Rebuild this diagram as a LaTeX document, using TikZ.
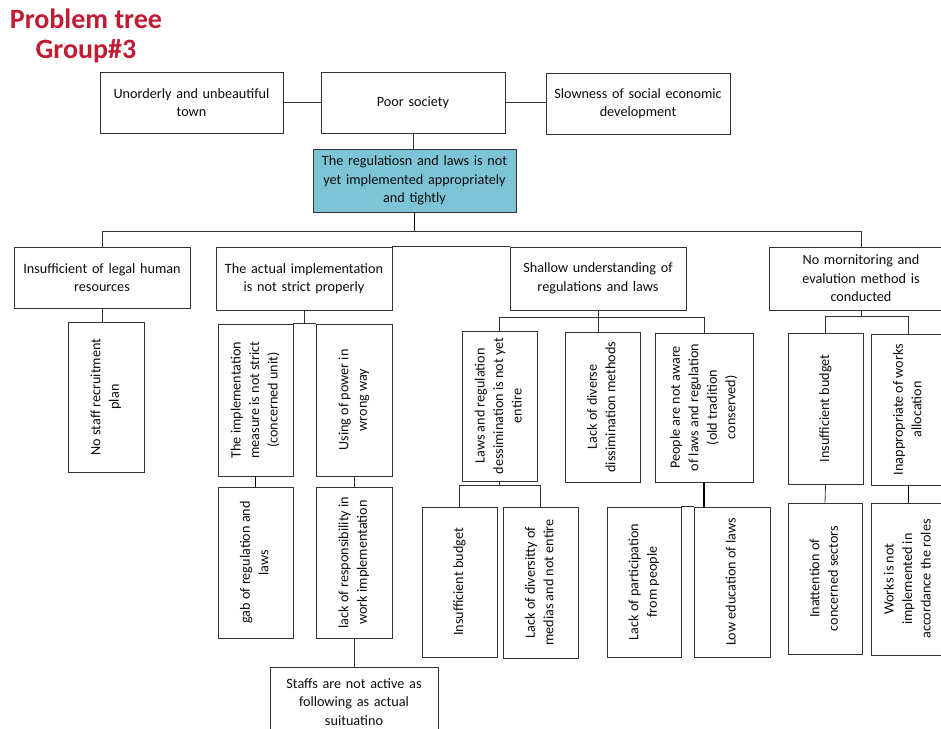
\documentclass[tikz,border=0pt]{standalone}
\usepackage{fontspec}
\setmainfont{Carlito}
\usepackage{graphicx}
\usepackage{xcolor}
\definecolor{rootblue}{RGB}{125,196,214}
\definecolor{titlered}{RGB}{192,28,52}
\newcommand{\vtext}[1]{\rotatebox{90}{\begin{tabular}{@{}c@{}}#1\end{tabular}}}

\begin{document}
\begin{tikzpicture}[x=1pt,y=-1pt,
  every node/.style={font=\fontsize{14.2}{18.5}\selectfont,text=black!95},
  hbox/.style 2 args={draw=black!80,line width=0.9pt,fill=white,text width=#1,minimum height=#2,inner xsep=0pt,align=center},
  vbox/.style 2 args={draw=black!80,line width=0.9pt,fill=white,minimum width=#1,minimum height=#2,inner sep=0pt},
  link/.style={draw=black!80,line width=0.8pt},
  heavy/.style={draw=black,line width=1.8pt}]
\useasboundingbox[fill=white] (0,0) rectangle (941,728);
\node[font=\fontsize{28}{29.5}\selectfont\bfseries,text=titlered,align=center] (title) at (86,36) {Problem tree\\Group\#3};

% effects
\node[hbox={183pt}{61pt}] (town) at (191.5,102.5) {Unorderly and unbeautiful\\town};
\node[hbox={184pt}{61pt}] (poor) at (413,102.5) {Poor society};
\node[hbox={184pt}{61pt}] (slow) at (638,103.5) {Slowness of social economic\\development};
\node[hbox={203pt}{63pt},fill=rootblue] (root) at (414.5,180.5) {The regulatiosn and laws is not\\yet implemented appropriately\\and tightly};

% causes
\node[hbox={176pt}{61pt}] (insuff) at (102,277.5) {Insufficient of legal human\\resources};
\node[hbox={176pt}{63pt}] (actual) at (304,278.5) {The actual implementation\\is not strict properly};
\node[hbox={176pt}{63pt}] (shallow) at (598,278.5) {Shallow understanding of\\regulations and laws};
\node[hbox={184pt}{63pt}] (monit) at (861,278.5) {No mornitoring and\\evalution method is\\conducted};

% sub causes
\node[vbox={76pt}{150pt}] (staff) at (106,397) {\vtext{No staff recruitment\\plan}};
\node[vbox={75pt}{152pt}] (impl) at (255.5,400) {\vtext{The implementation\\measure is not strict\\(concerned unit)}};
\node[vbox={76pt}{152pt}] (power) at (354,400) {\vtext{Using of power in\\wrong way}};
\node[vbox={75pt}{150pt}] (laws) at (499.5,406) {\vtext{Laws and regulation\\dessimination is not yet\\entire}};
\node[vbox={75pt}{150pt}] (diverse) at (602.5,407) {\vtext{Lack of diverse\\dissimination methods}};
\node[vbox={98pt}{149pt}] (people) at (704,407.5) {\vtext{People are not aware\\of laws and regulation\\(old tradition\\conserved)}};
\node[vbox={75pt}{151pt}] (budget) at (825.5,408.5) {\vtext{Insufficient budget}};
\node[vbox={75pt}{151pt}] (alloc) at (908.5,409.5) {\vtext{Inappropriate of works\\allocation}};

% root causes
\node[vbox={75pt}{151pt}] (gab) at (255.5,562.5) {\vtext{gab of regulation and\\laws}};
\node[vbox={76pt}{151pt}] (lack) at (354,562.5) {\vtext{lack of responsibility in\\work implementation}};
\node[hbox={168pt}{70pt}] (staffs) at (354,702) {Staffs are not active as\\following as actual\\suituatino};
\node[vbox={75pt}{150pt}] (budgetb) at (459.5,582) {\vtext{Insufficient budget}};
\node[vbox={75pt}{151pt}] (media) at (540.5,582.5) {\vtext{Lack of diversitty of\\medias and not entire}};
\node[vbox={74pt}{150pt}] (particip) at (644,582) {\vtext{Lack of participation\\from people}};
\node[vbox={76pt}{150pt}] (lowedu) at (732,582) {\vtext{Low education of laws}};
\node[vbox={74pt}{151pt}] (inatt) at (825,578.5) {\vtext{Inattention of\\concerned sectors}};
\node[vbox={75pt}{152pt}] (works) at (908.5,579) {\vtext{Works is not\\implemented in\\accordance the roles}};

% connectors
\coordinate (bar) at (0,231);
\coordinate (sbar) at (0,317);
\coordinate (mbar) at (0,316);
\coordinate (lbar) at (0,485);
\draw[link] (town.east) -- (town.east -| poor.west);
\draw[link] (poor.east) -- (poor.east -| slow.west);
\draw[link] (poor.south) -- (poor.south |- root.north);
\draw[heavy] (root.south) -- (root.south |- bar);
\draw[link] (insuff.north) -- (insuff.north |- bar) -- (monit.north |- bar) -- (monit.north);
\draw[link] (actual.north east) -- (shallow.north west);
\draw[link] (insuff.south) -- (insuff.south |- staff.north);
\draw[link] (actual.south) -- (actual.south |- impl.north);
\draw[link] (impl.north east) -- (power.north west);
\draw[heavy] (impl.south) -- (gab.north);
\draw[link] (power.south) -- (lack.north);
\draw[link] (lack.south) -- (staffs.north);
\draw[link] (shallow.south) -- (shallow.south |- diverse.north);
\draw[link] (laws.north) -- (laws.north |- sbar) -- (people.north |- sbar) -- (people.north);
\draw[link] (laws.south) -- (laws.south |- lbar);
\draw[link] (budgetb.north) -- (budgetb.north |- lbar) -- (media.north |- lbar) -- (media.north);
\draw[heavy] (people.south) -- (people.south |- lowedu.north);
\draw[link] (particip.north east) -- (lowedu.north west);
\draw[link] (monit.south) -- (monit.south |- mbar);
\draw[link] (budget.north) -- (budget.north |- mbar) -- (alloc.north |- mbar) -- (alloc.north);
\draw[link] (budget.south) -- (inatt.north);
\draw[heavy] (alloc.south) -- (works.north);
\end{tikzpicture}
\end{document}
